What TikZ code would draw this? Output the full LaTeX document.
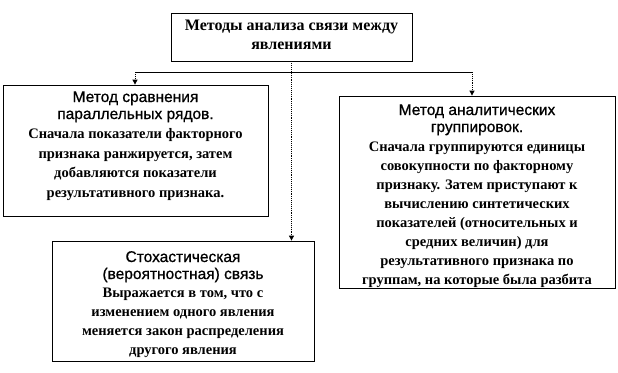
\documentclass[tikz,border=0pt]{standalone}
\usepackage{fontspec}
\setmainfont{Liberation Serif}
\newfontfamily\headfont[FakeBold=0.8]{Liberation Sans}
\usetikzlibrary{arrows.meta}
\begin{document}
\begin{tikzpicture}[x=1pt,y=1pt,
  box/.style={draw=black,line width=0.8pt,fill=white,inner sep=0pt},
  txt/.style={align=center,inner sep=0pt,anchor=base},
  head/.style={txt,font=\headfont\fontsize{15.5}{17}\selectfont},
  body/.style={txt,font=\fontsize{14.5}{19}\selectfont\bfseries},
  vline/.style={line width=0.9pt,densely dotted},
  hline/.style={line width=0.9pt},
  tip/.style={-{Triangle[width=5pt,length=5pt]}}
]
\useasboundingbox (0,0) rectangle (618,-372);
% boxes
\node[box,minimum width=241pt,minimum height=48pt] (top) at (291.5,-37) {};
\node[box,minimum width=265pt,minimum height=131pt] (left) at (135.5,-150.5) {};
\node[box,minimum width=276pt,minimum height=192pt] (right) at (477,-192) {};
\node[box,minimum width=262pt,minimum height=120pt] (stoch) at (183,-301) {};
% texts (anchor = baseline of last line)
\node[txt,font=\fontsize{16}{19}\selectfont\bfseries] (toptxt) at (291.5,-49) {Методы анализа связи между\\явлениями};
\node[head] (lefthead) at (135.5,-119) {Метод сравнения\\параллельных  рядов.};
\node[body,font=\fontsize{14.5}{19.5}\selectfont\bfseries] (leftbody) at (135.5,-197) {Сначала показатели факторного\\признака  ранжируется, затем\\добавляются показатели\\результативного признака.};
\node[head] (righthead) at (477,-132) {Метод аналитических\\группировок.};
\node[body,font=\fontsize{14.5}{18.9}\selectfont\bfseries] (rightbody) at (477,-284) {Сначала группируются  единицы\\совокупности по факторному\\признаку. Затем приступают к\\вычислению синтетических\\показателей (относительных и\\средних величин) для\\результативного признака по\\группам, на которые была разбита};
\node[head] (stochhead) at (183,-279) {Стохастическая\\(вероятностная) связь};
\node[body] (stochbody) at (183,-354) {Выражается в том, что с\\изменением одного явления\\меняется  закон распределения\\другого  явления};
% connectors
\coordinate (hl) at (135,-72);
\coordinate (hr) at (472,-72);
\draw[hline] (hl) -- (hr);
\draw[vline,tip] (top.south) -- (top.south |- stoch.north);
\draw[vline,tip] (hl) -- (hl |- left.north);
\draw[vline,tip] (hr) -- (hr |- right.north);
\end{tikzpicture}
\end{document}
